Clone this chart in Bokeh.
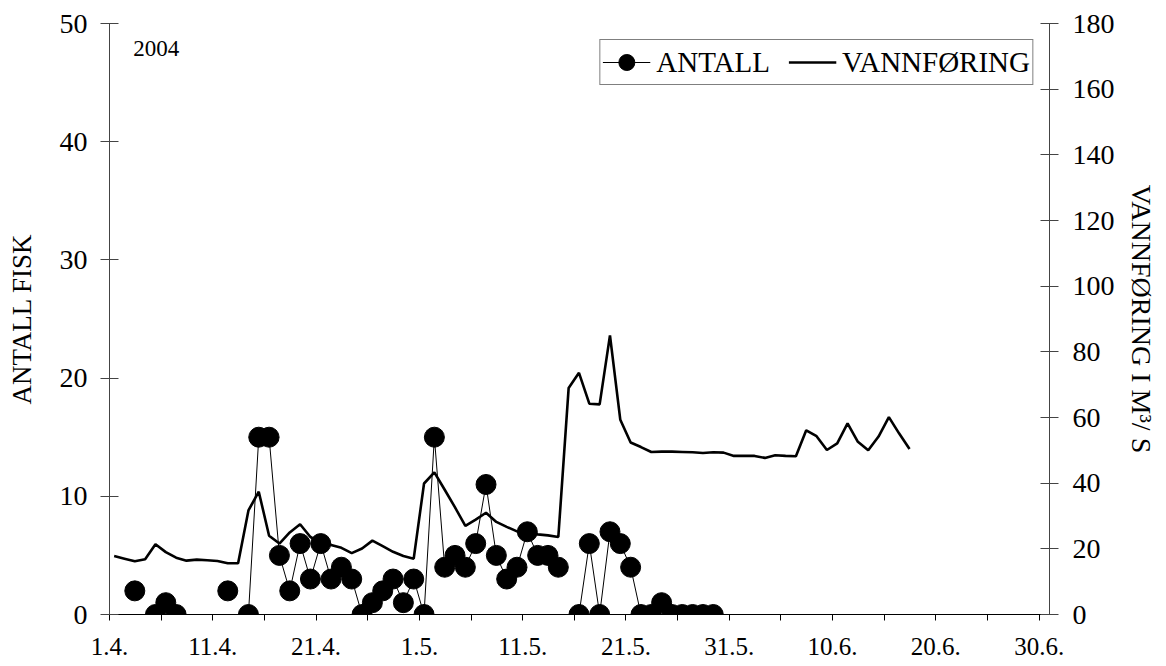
import pandas as pd
from bokeh.plotting import figure
from bokeh.models import Range1d, LinearAxis, FixedTicker, Legend, LegendItem, Label
from bokeh.embed import file_html
from bokeh.resources import INLINE

# ---------------- data ----------------
season_start = "2004-04-01"
year_text = "2004"

# number of fish counted per day (days without counting are left out)
fish_dates = [
    "2004-04-03", "2004-04-05", "2004-04-06", "2004-04-07", "2004-04-12",
    "2004-04-14", "2004-04-15", "2004-04-16", "2004-04-17", "2004-04-18",
    "2004-04-19", "2004-04-20", "2004-04-21", "2004-04-22", "2004-04-23",
    "2004-04-24", "2004-04-25", "2004-04-26", "2004-04-27", "2004-04-28",
    "2004-04-29", "2004-04-30",
    "2004-05-01", "2004-05-02", "2004-05-03", "2004-05-04", "2004-05-05",
    "2004-05-06", "2004-05-07", "2004-05-08", "2004-05-09", "2004-05-10",
    "2004-05-11", "2004-05-12", "2004-05-13", "2004-05-14",
    "2004-05-16", "2004-05-17", "2004-05-18", "2004-05-19", "2004-05-20",
    "2004-05-21", "2004-05-22", "2004-05-23", "2004-05-24", "2004-05-25",
    "2004-05-26", "2004-05-27", "2004-05-28", "2004-05-29",
]
fish_counts = [
    2, 0, 1, 0, 2,
    0, 15, 15, 5, 2, 6, 3, 6, 3, 4, 3, 0, 1, 2, 3, 1, 3,
    0, 15, 4, 5, 4, 6, 11, 5, 3, 4, 7, 5, 5, 4,
    0, 6, 0, 7, 6, 4, 0, 0, 1, 0, 0, 0, 0, 0,
]

# daily discharge (m3/s) from 1.4. onwards
flow_start = "2004-04-01"
flow_values = [
    17.8, 17.0, 16.2, 16.8, 21.4, 19.0, 17.3, 16.4, 16.7, 16.5,
    16.3, 15.6, 15.6, 31.7, 37.4, 24.0, 21.6, 25.0, 27.5, 23.6,
    21.9, 21.2, 20.3, 18.7, 20.1, 22.5, 20.8, 19.1, 17.8, 17.0,
    39.9, 43.3, 38.0, 32.6, 27.0, 28.9, 31.0, 28.2, 26.7, 25.3,
    25.1, 24.4, 24.1, 23.6, 69.0, 73.6, 64.2, 64.0, 85.0, 59.3,
    52.4, 51.0, 49.5, 49.6, 49.6, 49.5, 49.4, 49.2, 49.4, 49.3,
    48.3, 48.3, 48.3, 47.7, 48.5, 48.3, 48.2, 56.1, 54.3, 50.1,
    52.1, 58.2, 52.6, 50.0, 54.2, 60.1, 55.1, 50.4,
]

tick_days = [0, 10, 20, 30, 40, 50, 60, 70, 80, 90]
tick_labels = ["1.4.", "11.4.", "21.4.", "1.5.", "11.5.", "21.5.",
               "31.5.", "10.6.", "20.6.", "30.6."]
left_ticks = [0, 10, 20, 30, 40, 50]
right_ticks = [0, 20, 40, 60, 80, 100, 120, 140, 160, 180]

# ---------------- preparation ----------------
start = pd.Timestamp(season_start)
DAY_CENTRE = 0.45  # points sit inside their day slot

fish = pd.Series(fish_counts, index=pd.to_datetime(fish_dates))
fish = fish.reindex(pd.date_range(fish.index.min(), fish.index.max(), freq="D"))
fish_x = [(d - start).days + DAY_CENTRE for d in fish.index]
fish_y = fish.values.astype(float)

flow_idx = pd.date_range(flow_start, periods=len(flow_values), freq="D")
flow_x = [(d - start).days + DAY_CENTRE for d in flow_idx]

FONT = "Liberation Serif"

p = figure(width=1166, height=666, x_range=Range1d(0, 91), y_range=Range1d(0, 50),
           output_backend="svg", toolbar_location=None,
           min_border_left=109, min_border_right=117, min_border_top=23,
           min_border_bottom=52)
p.extra_y_ranges = {"flow": Range1d(0, 180)}
p.outline_line_color = None
p.xgrid.visible = False
p.ygrid.visible = False
p.background_fill_color = "white"
p.border_fill_color = "white"

# x axis
xa = p.xaxis[0]
xa.ticker = FixedTicker(ticks=tick_days,
                        minor_ticks=[d + 5 for d in tick_days[:-1]])
xa.major_label_overrides = {d: lab for d, lab in zip(tick_days, tick_labels)}
xa.major_label_text_font = FONT
xa.major_label_text_font_size = "25px"
xa.major_label_text_color = "black"
xa.major_label_standoff = 17
xa.major_tick_in = 0
xa.major_tick_out = 6
xa.minor_tick_in = 0
xa.minor_tick_out = 6
xa.minor_tick_line_color = "black"
xa.axis_line_color = "black"
xa.major_tick_line_color = "black"

# left axis
ya = p.yaxis[0]
ya.ticker = FixedTicker(ticks=left_ticks)
ya.axis_label = "ANTALL FISK"
ya.axis_label_text_font = FONT
ya.axis_label_text_font_size = "27px"
ya.axis_label_text_font_style = "normal"
ya.axis_label_text_color = "black"
ya.axis_label_standoff = 20
ya.major_label_text_font = FONT
ya.major_label_text_font_size = "28px"
ya.major_label_text_color = "black"
ya.major_label_standoff = 13
ya.major_tick_in = 9
ya.major_tick_out = 9
ya.minor_tick_line_color = None
ya.axis_line_color = "#444444"
ya.major_tick_line_color = "#444444"

# right axis
ra = LinearAxis(y_range_name="flow", ticker=FixedTicker(ticks=right_ticks),
                axis_label="VANNFØRING I M³/ S")
ra.axis_label_text_font = FONT
ra.axis_label_text_font_size = "28px"
ra.axis_label_text_font_style = "normal"
ra.axis_label_text_color = "black"
ra.axis_label_standoff = 8
ra.major_label_text_font = FONT
ra.major_label_text_font_size = "28px"
ra.major_label_text_color = "black"
ra.major_label_standoff = 14
ra.major_tick_in = 9
ra.major_tick_out = 9
ra.minor_tick_line_color = None
ra.axis_line_color = "#444444"
ra.major_tick_line_color = "#444444"
p.add_layout(ra, "right")

# glyphs
flow_line = p.line(flow_x, flow_values, y_range_name="flow",
                   line_color="black", line_width=2.6)
fish_line = p.line(fish_x, fish_y, line_color="black", line_width=1)
fish_pts = p.scatter(fish_x, fish_y, size=20, marker="circle",
                     fill_color="black", line_color="black")

# year text
p.add_layout(Label(x=2.3, y=47.9, text=year_text, text_font=FONT,
                   text_font_size="23px", text_baseline="middle",
                   text_color="black"))

legend = Legend(items=[LegendItem(label="ANTALL", renderers=[fish_line, fish_pts]),
                       LegendItem(label="VANNFØRING", renderers=[flow_line])],
                location="top_right", orientation="horizontal")
legend.label_text_font = FONT
legend.label_text_font_size = "29px"
legend.label_text_color = "black"
legend.glyph_width = 48
legend.glyph_height = 40
legend.label_standoff = 6
legend.spacing = 18
legend.padding = 2
legend.margin = 16
legend.border_line_color = "black"
legend.border_line_width = 1
legend.background_fill_color = "white"
legend.background_fill_alpha = 1
p.add_layout(legend)

open("out.html", "w").write(file_html(p, INLINE))
